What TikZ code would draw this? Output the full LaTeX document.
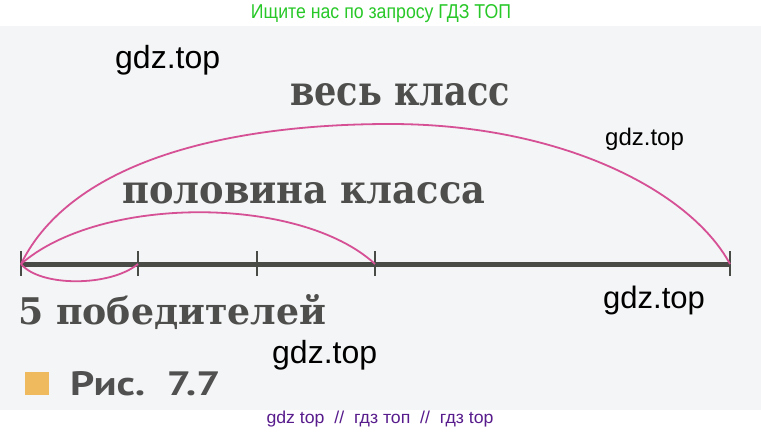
\documentclass[tikz,border=0pt]{standalone}
\usepackage{graphicx}
\usepackage{fontspec}
\setmainfont{DejaVu Serif}
\newfontfamily\wmfont{Liberation Sans}
\newfontfamily\ptsans{PT Sans}
\definecolor{scanbg}{RGB}{244,245,246}
\definecolor{arcpink}{RGB}{214,80,150}
\definecolor{linegray}{RGB}{72,75,70}
\definecolor{inkgray}{RGB}{78,78,76}
\definecolor{headgreen}{RGB}{40,200,40}
\definecolor{footpurple}{RGB}{88,28,140}
\definecolor{figorange}{RGB}{239,186,94}
\tikzset{
  lbl/.style={inner sep=0pt, anchor=base west, text=inkgray},
  wmark/.style={inner sep=0pt, anchor=base west, text=black},
  arcline/.style={draw=arcpink, line width=1.8pt},
  axisline/.style={draw=linegray, line width=5pt},
  tickmark/.style={draw=linegray, line width=2.4pt}
}
\begin{document}
\begin{tikzpicture}[x=1pt,y=-1pt]
\useasboundingbox (0,0) rectangle (761,439);
\fill[white] (0,0) rectangle (761,439);
\fill[scanbg] (0,26) rectangle (761,410);

% header and footer
\node[inner sep=0pt, anchor=base, text=headgreen] (head) at (381,19)
  {\resizebox{260pt}{14pt}{\wmfont Ищите нас по запросу ГДЗ ТОП}};
\node[inner sep=0pt, anchor=base, text=footpurple] (foot) at (380,423)
  {\resizebox{227pt}{12.5pt}{\wmfont gdz top \ // \ гдз топ \ // \ гдз top}};

% number line
\coordinate (p0) at (21,264);
\coordinate (p1) at (138,264);
\coordinate (p2) at (257,264);
\coordinate (p3) at (375,264);
\coordinate (p4) at (730,264);
\draw[axisline] (p0) -- (p4);
\foreach \p in {p0,p1,p2,p3,p4}
  \draw[tickmark] ([yshift=-12pt]\p) -- ([yshift=13pt]\p);

% arcs
\draw[arcline] (p0) .. controls (72,160) and (230,124) .. (390,124)
  .. controls (560,124) and (690,190) .. (p4);
\draw[arcline] (p0) .. controls (100,195) and (300,195) .. (p3);
\draw[arcline] (p0) .. controls (40,287) and (110,287) .. (p1);

% labels
\node[lbl] (whole) at (290,105) {\resizebox{220pt}{22pt}{\bfseries весь класс}};
\node[lbl] (half) at (122,203) {\resizebox{363pt}{21pt}{\bfseries половина класса}};
\node[lbl] (five) at (18,324) {\resizebox{308pt}{30pt}{\bfseries 5 победителей}};

% figure caption
\fill[figorange] (25,372) rectangle (49,395);
\node[lbl, text={rgb,255:red,80;green,80;blue,80}] (fig) at (70,395)
  {\resizebox{150pt}{24pt}{\ptsans\bfseries Рис.\ \ 7.7}};

% watermarks
\node[wmark] (w1) at (115,68) {\fontsize{32}{36}\selectfont\wmfont gdz.top};
\node[wmark] (w2) at (605,145) {\fontsize{24}{28}\selectfont\wmfont gdz.top};
\node[wmark] (w3) at (603,308) {\fontsize{31}{35}\selectfont\wmfont gdz.top};
\node[wmark] (w4) at (272,363) {\fontsize{32}{36}\selectfont\wmfont gdz.top};
\end{tikzpicture}
\end{document}
